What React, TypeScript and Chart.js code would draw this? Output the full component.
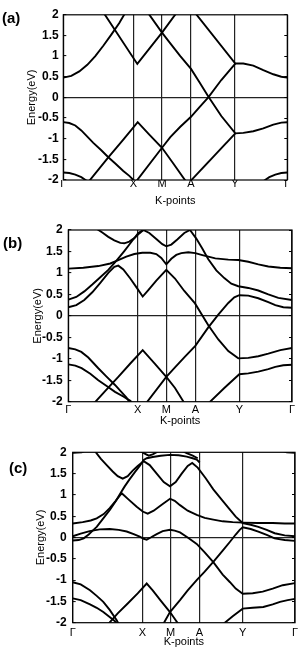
import React, { useEffect, useRef } from 'react';
import { Chart, registerables } from 'chart.js';
Chart.register(...registerables);

type Pt = [number, number];

const KLABELS = ['Γ', 'X', 'M', 'A', 'Y', 'Γ'];
const YTICKS = [-2, -1.5, -1, -0.5, 0, 0.5, 1, 1.5, 2];
const KPOS_A = [0, 70, 98.7, 127.7, 171.7, 224];
const KPOS_B = [0, 69.3, 98, 127, 171, 223.7];
const KPOS_C = [0, 69.7, 98, 126.7, 170, 222.3];

// ---- panel (a) bands: [k, E(eV)] ----
const A1: Pt[] = [[0,0.48],[8,0.52],[16,0.63],[24,0.79],[32,1.0],[40,1.25],[48,1.52],[56,1.8],[62,2.05]];
const A2: Pt[] = [[40.3,2.05],[74,0.81],[98.7,1.57],[113.3,2.05]];
const A3: Pt[] = [[84.6,2.05],[98.7,1.57],[107,1.31],[117,1.0],[127.7,0.69],[136,0.37],[145,0.02],[158,-0.45],[172,-0.87],[180,-0.86],[190,-0.82],[200,-0.75],[210,-0.66],[218,-0.61],[224,-0.6]];
const A4: Pt[] = [[131.7,2.05],[172,0.82],[180,0.82],[190,0.77],[200,0.66],[210,0.56],[218,0.5],[224,0.48]];
const A5: Pt[] = [[73,-2.03],[98.7,-1.22],[107,-0.96],[117,-0.71],[127.7,-0.47],[136,-0.24],[145,0.0],[158,0.42],[172,0.82]];
const A6: Pt[] = [[127,-2.03],[172,-0.87]];
const A7: Pt[] = [[0,-0.6],[6,-0.62],[12,-0.68],[18,-0.8],[24,-0.95],[30,-1.1],[38,-1.28],[45,-1.45],[52,-1.6],[60,-1.78],[66,-1.9],[71,-2.02]];
const A8: Pt[] = [[25.7,-2.03],[45,-1.45],[60,-1.02],[74.4,-0.6],[86,-0.9],[98.7,-1.22],[110,-1.6],[122.5,-2.03]];
const A9: Pt[] = [[0,-1.82],[6,-1.83],[12,-1.87],[18,-1.93],[24,-2.03]];
const A10: Pt[] = [[200,-2.03],[206,-1.93],[212,-1.87],[218,-1.83],[224,-1.82]];

// ---- panel (b) bands ----
const B1: Pt[] = [[0,1.1],[15,1.12],[30,1.16],[42,1.22],[50,1.3],[58,1.38],[66,1.44],[74,1.47],[82,1.47],[88,1.44],[93,1.35],[98,1.2],[103,1.33],[108,1.42],[113,1.46],[120,1.48],[127,1.46],[135,1.41],[147,1.34],[160,1.31],[170,1.3],[180,1.26],[190,1.2],[200,1.15],[212,1.12],[223.7,1.11]];
const B2: Pt[] = [[0,0.38],[8,0.44],[16,0.57],[24,0.73],[32,0.9],[40,1.07],[48,1.28],[56,1.51],[63,1.72],[70,1.93],[75,2.0],[81,1.93],[88,1.79],[94,1.67],[98,1.62],[103,1.66],[109,1.78],[116,1.93],[121.7,2.0],[128,1.8],[134,1.57],[140,1.32],[148,1.06],[156,0.88],[163,0.75],[170,0.69],[180,0.65],[190,0.59],[200,0.5],[210,0.42],[223.7,0.37]];
const B3: Pt[] = [[27,2.05],[34,1.94],[40,1.84],[46,1.76],[52,1.7],[56,1.69],[61,1.73],[66,1.81],[71,1.92],[75,2.0]];
const B4: Pt[] = [[0,0.2],[8,0.25],[16,0.37],[24,0.55],[32,0.77],[40,1.0],[46,1.14],[50,1.17],[55,1.08],[62,0.87],[68,0.67],[74.4,0.45],[80,0.6],[88,0.82],[98,1.07],[106.7,0.87],[116,0.58],[126.7,0.29],[140,-0.22],[150,-0.55],[160,-0.82],[170,-0.99],[180,-0.98],[190,-0.94],[200,-0.88],[212,-0.8],[223.7,-0.75]];
const B5: Pt[] = [[78,-2.03],[98,-1.42],[106.7,-1.2],[116.7,-0.95],[127,-0.7],[140,-0.27],[150,0.03],[160,0.3],[166,0.43],[171,0.48],[180,0.47],[190,0.41],[200,0.32],[207,0.25],[215,0.2],[223.7,0.19]];
const B6: Pt[] = [[26,-2.03],[40,-1.67],[50,-1.42],[62,-1.11],[74.4,-0.8],[86,-1.1],[98,-1.42],[106.7,-1.68],[116,-2.03]];
const B7: Pt[] = [[0,-0.75],[7,-0.78],[13,-0.84],[20,-0.97],[30,-1.22],[38,-1.41],[46.7,-1.61],[53,-1.77],[58,-1.9],[62,-2.03]];
const B8: Pt[] = [[0,-1.13],[7,-1.16],[13.3,-1.22],[22,-1.35],[30,-1.5],[38,-1.63],[46.7,-1.77],[55,-1.88],[62,-1.98],[64,-2.03]];
const B9: Pt[] = [[140.5,-2.03],[156,-1.68],[171,-1.36],[180,-1.34],[190,-1.3],[200,-1.24],[207,-1.19],[215,-1.15],[223.7,-1.14]];

// ---- panel (c) bands ----
const C1: Pt[] = [[21.5,2.05],[28,1.85],[34,1.7],[40,1.55],[45,1.44],[50,1.38],[55,1.44],[60,1.57],[65,1.68],[71,1.79],[77,1.7],[84,1.5],[91,1.3],[97.3,1.2],[103,1.3],[109,1.5],[115,1.68],[119.5,1.75],[125,1.64],[133,1.39],[140.6,1.13],[150,0.86],[157,0.66],[163,0.49],[170,0.34],[178,0.3],[185.6,0.25],[194,0.18],[202,0.1],[212,0.05],[222.3,0.03]];
const C2: Pt[] = [[0,0.33],[10,0.36],[18,0.4],[24,0.45],[31,0.55],[37,0.69],[43,0.86],[49,1.04],[56,0.89],[64,0.72],[70,0.61],[75,0.56],[81,0.63],[89,0.77],[97.3,0.91],[102,0.86],[107.3,0.76],[115,0.63],[124,0.53],[132,0.46],[140.6,0.42],[150,0.38],[160,0.36],[170,0.35],[185,0.34],[200,0.34],[212,0.33],[222.3,0.33]];
const C3: Pt[] = [[0,-0.07],[6,-0.06],[11,-0.02],[16,0.07],[20,0.16],[24,0.25],[30,0.43],[37.3,0.65],[43,0.85],[47.3,1.02],[52,1.2],[57,1.37],[62,1.53],[67,1.68],[71,1.82],[74,1.86],[80,1.89],[88,1.92],[97,1.94],[106,1.93],[114,1.9],[120,1.86],[124,1.83],[127,1.76]];
const C4: Pt[] = [[66,2.05],[72,1.97],[76,1.92],[80,1.95],[86,2.03]];
const C5: Pt[] = [[108,2.05],[114,1.98],[120,1.92],[125,1.86]];
const C6: Pt[] = [[0,1.99],[9,2.0],[14,2.05]];
const C7: Pt[] = [[208,2.05],[214,2.0],[222.3,1.99]];
const C8: Pt[] = [[0,0.03],[8,0.09],[17,0.15],[27,0.19],[37,0.2],[46,0.18],[54,0.14],[61,0.08],[67,0.02],[71,-0.03],[74,-0.05],[78,0.0],[84,0.08],[90,0.15],[97.3,0.18],[102,0.16],[107.3,0.12],[115,0.0],[124,-0.15],[132,-0.35],[140.6,-0.58],[150,-0.87],[157.3,-1.05],[163,-1.2],[170,-1.32],[180,-1.31],[190,-1.27],[200,-1.2],[210,-1.12],[222.3,-1.07]];
const C9: Pt[] = [[90.6,-2.03],[97.3,-1.75],[107.3,-1.47],[115,-1.24],[124,-1.0],[132,-0.8],[140.6,-0.57],[150,-0.31],[157.3,-0.1],[163,0.07],[167,0.18],[170,0.24],[178,0.2],[185.6,0.14],[194,0.06],[202,-0.02],[212,-0.06],[222.3,-0.08]];
const C10: Pt[] = [[35.6,-2.03],[45,-1.78],[55,-1.55],[65,-1.31],[74,-1.08],[80,-1.24],[88,-1.48],[97.3,-1.75],[105.6,-2.03]];
const C11: Pt[] = [[0,-1.05],[8,-1.1],[17.3,-1.24],[24,-1.37],[30.6,-1.51],[37,-1.7],[44,-1.94],[46,-2.03]];
const C12: Pt[] = [[0,-1.43],[8,-1.47],[17.3,-1.57],[24,-1.65],[30.6,-1.75],[36,-1.85],[42,-1.96],[45,-2.03]];
const C13: Pt[] = [[150.6,-2.03],[160,-1.85],[170,-1.67],[180,-1.65],[190.6,-1.63],[200,-1.57],[207.3,-1.51],[215,-1.47],[222.3,-1.44]];

const BANDS_A = [A1, A2, A3, A4, A5, A6, A7, A8, A9, A10];
const BANDS_B = [B1, B2, B3, B4, B5, B6, B7, B8, B9];
const BANDS_C = [C1, C2, C3, C4, C5, C6, C7, C8, C9, C10, C11, C12, C13];

const FONT = 'Liberation Sans, Arial, Helvetica, sans-serif';
const W = 302;

const framePlugin = {
  id: 'frame',
  afterDraw(chart: any) {
    const { ctx, chartArea: a } = chart;
    ctx.save();
    ctx.strokeStyle = '#000';
    ctx.lineWidth = 1.2;
    ctx.strokeRect(a.left, a.top, a.right - a.left, a.bottom - a.top);
    ctx.restore();
  },
};

interface PanelProps {
  bands: Pt[][];
  kpos: number[];
  top: number;
  h: number;
  L: number; R: number; T: number; B: number;
  xTickPad: number; xTitlePad: number; yTitlePad: number; yTickPad: number;
}

function Panel(p: PanelProps) {
  const ref = useRef<HTMLCanvasElement | null>(null);
  useEffect(() => {
    const setTicks = (s: any) => { s.ticks = YTICKS.map((v) => ({ value: v })); };
    const chart = new Chart(ref.current as HTMLCanvasElement, {
      type: 'line',
      data: {
        datasets: p.bands.map((pts) => ({
          data: pts.map(([x, y]) => ({ x, y })),
          borderColor: '#000',
          borderWidth: 1.9,
          pointRadius: 0,
          fill: false,
          tension: 0,
          clip: 0,
        })),
      },
      options: {
        responsive: false,
        animation: false,
        devicePixelRatio: 1,
        events: [],
        layout: { padding: { top: p.T, left: 0, right: 0, bottom: 0 } },
        plugins: { legend: { display: false }, tooltip: { enabled: false } },
        scales: {
          x: {
            type: 'linear',
            min: 0,
            max: p.kpos[p.kpos.length - 1],
            afterBuildTicks: (s: any) => { s.ticks = p.kpos.map((v) => ({ value: v })); },
            afterFit: (s: any) => { s.height = p.h - p.B; },
            ticks: {
              autoSkip: false,
              maxRotation: 0,
              color: '#000',
              padding: p.xTickPad,
              font: { family: FONT, size: 11 },
              callback: (_v: any, i: number) => KLABELS[i],
            },
            grid: { color: '#222', lineWidth: 1.2, drawTicks: false },
            border: { display: false },
            title: { display: true, text: 'K-points', color: '#000', font: { family: FONT, size: 11 }, padding: { top: 0, bottom: p.xTitlePad } },
          },
          y: {
            type: 'linear',
            position: 'left',
            min: -2,
            max: 2,
            afterBuildTicks: setTicks,
            afterFit: (s: any) => { s.width = p.L; },
            ticks: {
              color: '#000',
              padding: p.yTickPad,
              font: { family: FONT, size: 12, weight: 'bold' },
              callback: (v: any) => String(v),
            },
            grid: {
              color: (c: any) => (c.tick && c.tick.value === 0 ? '#222' : 'rgba(0,0,0,0)'),
              lineWidth: 1.2,
              tickLength: -3,
              tickColor: '#000',
              tickWidth: 1,
            },
            border: { display: false },
            title: { display: true, text: 'Energy(eV)', color: '#000', font: { family: FONT, size: 11 }, padding: { top: p.yTitlePad, bottom: 0 } },
          },
          yr: {
            type: 'linear',
            position: 'right',
            min: -2,
            max: 2,
            afterBuildTicks: setTicks,
            afterFit: (s: any) => { s.width = W - p.R; },
            ticks: { display: false },
            grid: { drawOnChartArea: false, tickLength: -3, tickColor: '#000', tickWidth: 1, color: '#000' },
            border: { display: false },
          },
        },
      } as any,
      plugins: [framePlugin],
    });
    return () => chart.destroy();
  }, []);
  return (
    <canvas
      ref={ref}
      width={W}
      height={p.h}
      style={{ position: 'absolute', left: 0, top: p.top, width: W, height: p.h }}
    />
  );
}

const labelStyle = (left: number, top: number): React.CSSProperties => ({
  position: 'absolute', left, top, font: `bold 15px ${FONT}`, lineHeight: '15px', color: '#000',
});

export default function App() {
  return (
    <div style={{ position: 'fixed', left: 0, top: 0, width: W, height: 653, background: '#fff', overflow: 'hidden' }}>
      <Panel bands={BANDS_A} kpos={KPOS_A} top={0} h={210} L={63.3} R={287.3} T={9} B={180}
        xTickPad={-2.3} xTitlePad={2.4} yTitlePad={25} yTickPad={7.6} />
      <Panel bands={BANDS_B} kpos={KPOS_B} top={210} h={220} L={68.3} R={292} T={20} B={191.7}
        xTickPad={2.1} xTitlePad={2.7} yTitlePad={31.7} yTickPad={8.6} />
      <Panel bands={BANDS_C} kpos={KPOS_C} top={430} h={223} L={72.7} R={295} T={22.3} B={192.7}
        xTickPad={3.4} xTitlePad={4.4} yTitlePad={34.1} yTickPad={9} />
      <div style={labelStyle(2, 10)}>(a)</div>
      <div style={labelStyle(3, 235)}>(b)</div>
      <div style={labelStyle(9, 460)}>(c)</div>
    </div>
  );
}
